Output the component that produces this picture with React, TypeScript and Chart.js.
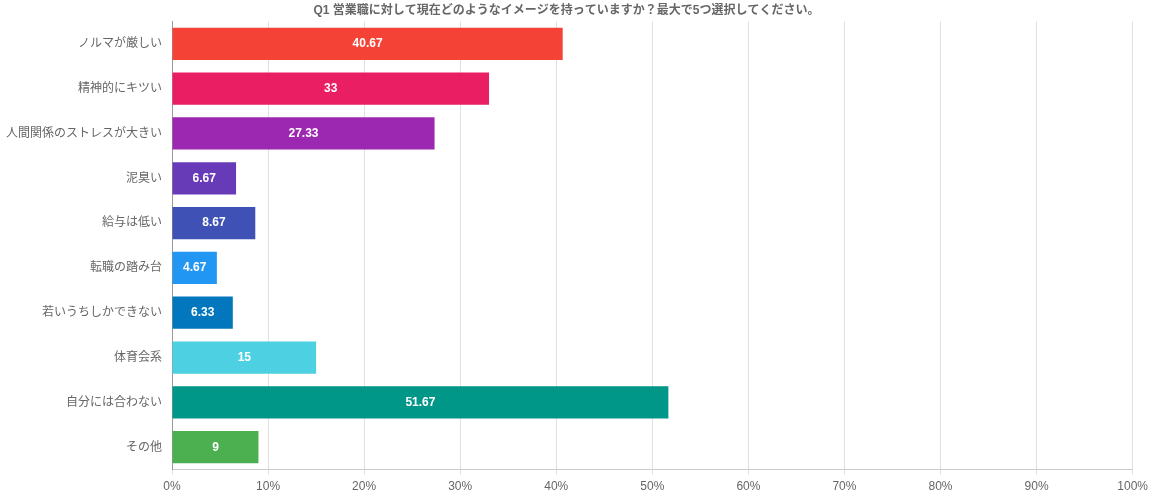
import { useEffect, useRef } from "react";
import { Chart, registerables, Plugin } from "chart.js";

Chart.register(...registerables);

const titleText = "Q1 営業職に対して現在どのようなイメージを持っていますか？最大で5つ選択してください。";

const categories = [
  "ノルマが厳しい",
  "精神的にキツい",
  "人間関係のストレスが大きい",
  "泥臭い",
  "給与は低い",
  "転職の踏み台",
  "若いうちしかできない",
  "体育会系",
  "自分には合わない",
  "その他",
];

const values = [40.67, 33, 27.33, 6.67, 8.67, 4.67, 6.33, 15, 51.67, 9];

const barColors = [
  "#F44336",
  "#E91E63",
  "#9C27B0",
  "#673AB7",
  "#3F51B5",
  "#2196F3",
  "#0277BD",
  "#4DD0E1",
  "#009688",
  "#4CAF50",
];

const FONT = "'Liberation Sans', Arial, 'Noto Sans CJK JP', sans-serif";

// white value labels centred in each bar
const barLabelPlugin: Plugin<"bar"> = {
  id: "barLabels",
  afterDatasetsDraw: (chart) => {
    const { ctx } = chart;
    const meta = chart.getDatasetMeta(0);
    ctx.save();
    ctx.font = `bold 12px ${FONT}`;
    ctx.fillStyle = "#fff";
    ctx.textAlign = "center";
    ctx.textBaseline = "middle";
    meta.data.forEach((bar: any, i) => {
      const x = (bar.x + bar.base) / 2;
      ctx.fillText(`${values[i]}`, x, bar.y);
    });
    ctx.restore();
  },
};

export default function App() {
  const chartRef = useRef<HTMLCanvasElement | null>(null);
  const chartInstance = useRef<Chart<"bar"> | null>(null);

  useEffect(() => {
    if (!chartRef.current) return;
    chartInstance.current?.destroy();

    chartInstance.current = new Chart(chartRef.current, {
      type: "bar",
      data: {
        labels: categories,
        datasets: [
          {
            data: values,
            backgroundColor: barColors,
            borderWidth: 0,
          },
        ],
      },
      options: {
        indexAxis: "y",
        animation: false,
        responsive: true,
        maintainAspectRatio: false,
        layout: { padding: { left: 0, right: 20, top: 0, bottom: 1 } },
        plugins: {
          legend: { display: false },
          tooltip: { enabled: false },
          title: {
            display: true,
            text: titleText,
            color: "#666",
            font: { family: FONT, size: 12, weight: "bold" },
            padding: { top: 3, bottom: 4 },
          },
        },
        scales: {
          x: {
            min: 0,
            max: 100,
            ticks: {
              stepSize: 10,
              color: "#666",
              font: { family: FONT, size: 12 },
              padding: 5,
              callback: (v) => `${v}%`,
            },
            grid: { color: "#e0e0e0", tickLength: 5 },
            border: { color: "#ccc" },
          },
          y: {
            ticks: {
              color: "#666",
              font: { family: FONT, size: 12 },
              padding: 10,
            },
            grid: { display: false, drawTicks: false },
            border: { color: "#999" },
            afterFit: (scale) => {
              scale.width = 172;
            },
          },
        },
      },
      plugins: [barLabelPlugin],
    });

    return () => {
      chartInstance.current?.destroy();
    };
  }, []);

  return (
    <div style={{ position: "absolute", left: 0, top: 0, width: 1153, height: 500 }}>
      <canvas ref={chartRef} />
    </div>
  );
}
